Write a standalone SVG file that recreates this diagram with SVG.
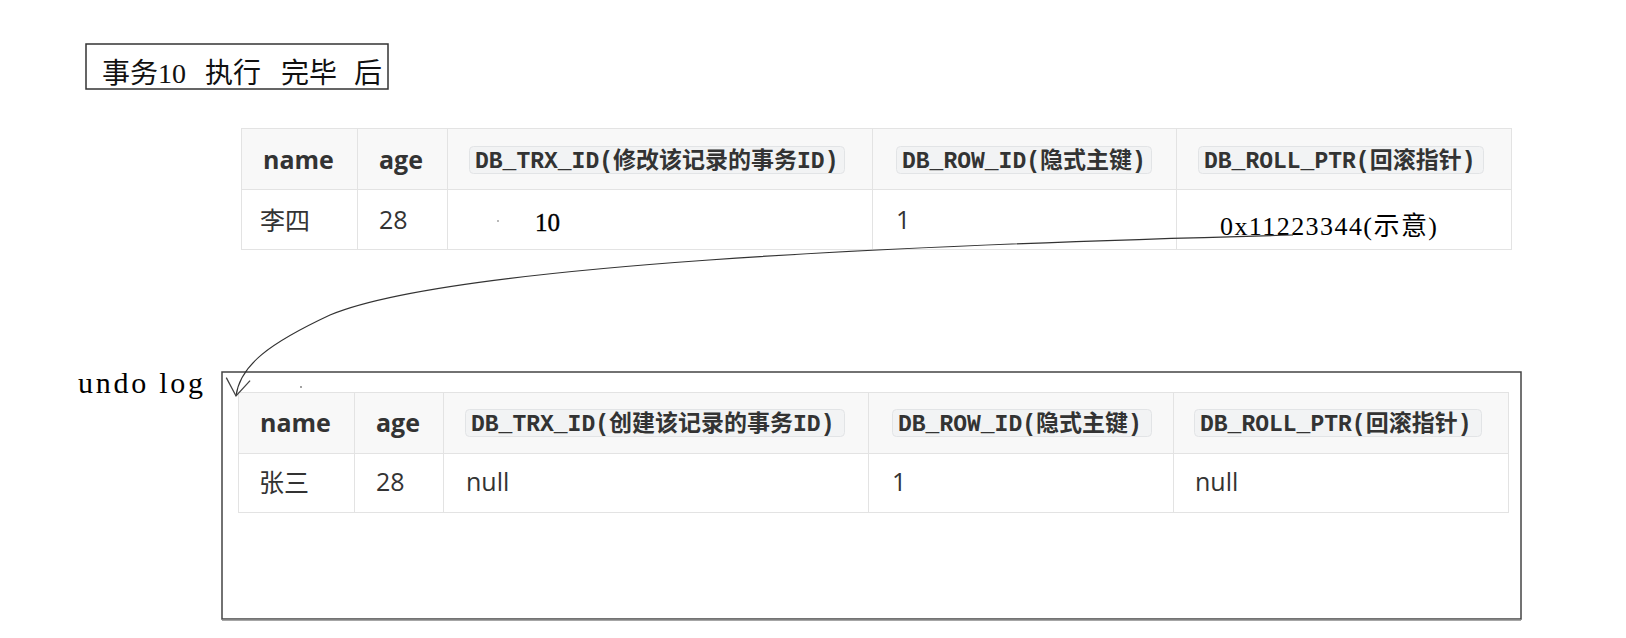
<svg xmlns="http://www.w3.org/2000/svg" width="1626" height="638" viewBox="0 0 1626 638">
<defs>
<style>
.hdr{fill:#f8f8f8;stroke:#e3e3e3;stroke-width:1}
.cell{fill:#ffffff;stroke:#e3e3e3;stroke-width:1}
.th{font-family:"Open Sans","Noto Sans",sans-serif;font-weight:bold;font-size:25px;fill:#333}
.td{font-family:"Open Sans","Noto Sans","Noto Sans CJK SC",sans-serif;font-size:25px;fill:#333}
.code{fill:#f2f3f4;stroke:#e2e4e6;stroke-width:1}
.ct{font-family:"Liberation Mono","Noto Sans CJK SC",monospace;font-weight:bold;font-size:23px;fill:#333}
.serif{font-family:"Liberation Serif","Noto Sans CJK SC",serif;fill:#111}
</style>
<marker id="arr" viewBox="0 0 20 26" refX="18" refY="13" markerWidth="20" markerHeight="26" markerUnits="userSpaceOnUse" orient="auto">
<path d="M1,1 L18,13 L1,25" fill="none" stroke="#444" stroke-width="1.3"/>
</marker>
</defs>
<rect width="1626" height="638" fill="#ffffff"/>

<g id="title">
<rect x="86" y="44" width="302" height="45" fill="none" stroke="#333" stroke-width="1.5"/>
<text class="serif" font-size="28" y="83"><tspan x="102">事务10</tspan><tspan x="205">执行</tspan><tspan x="281">完毕</tspan><tspan x="354">后</tspan></text>
</g>

<g id="current-record">
<rect class="hdr" x="241.5" y="128.5" width="116" height="61"/>
<rect class="hdr" x="357.5" y="128.5" width="90" height="61"/>
<rect class="hdr" x="447.5" y="128.5" width="425" height="61"/>
<rect class="hdr" x="872.5" y="128.5" width="304" height="61"/>
<rect class="hdr" x="1176.5" y="128.5" width="335" height="61"/>
<rect class="cell" x="241.5" y="189.5" width="116" height="60"/>
<rect class="cell" x="357.5" y="189.5" width="90" height="60"/>
<rect class="cell" x="447.5" y="189.5" width="425" height="60"/>
<rect class="cell" x="872.5" y="189.5" width="304" height="60"/>
<rect class="cell" x="1176.5" y="189.5" width="335" height="60"/>
<text class="th" x="263" y="169">name</text>
<text class="th" x="379" y="169">age</text>
<rect class="code" x="469.5" y="146.5" width="375" height="27" rx="4"/>
<text class="ct" x="475" y="168">DB_TRX_ID(修改该记录的事务ID)</text>
<rect class="code" x="896.5" y="146.5" width="255" height="27" rx="4"/>
<text class="ct" x="902" y="168">DB_ROW_ID(隐式主键)</text>
<rect class="code" x="1198.5" y="146.5" width="285" height="27" rx="4"/>
<text class="ct" x="1204" y="168">DB_ROLL_PTR(回滚指针)</text>
<text class="td" x="260" y="230">李四</text>
<text class="td" x="379" y="229">28</text>
<circle cx="498" cy="221" r="0.9" fill="#999"/>
<text class="serif" x="535" y="231" font-size="25" style="fill:#000;stroke:#000;stroke-width:0.4">10</text>
<text class="td" x="896" y="229">1</text>
<text class="serif" x="1220" y="235" font-size="26" textLength="217" style="fill:#000">0x11223344(示意)</text>
</g>

<g id="undo-log">
<text class="serif" x="78" y="393" font-size="30" textLength="125" style="fill:#000">undo log</text>
<rect x="222" y="372" width="1299" height="247" fill="none" stroke="#444" stroke-width="1.5"/>
<line x1="222" y1="620" x2="1521" y2="620" stroke="#888" stroke-width="1.5"/>
<circle cx="301" cy="387" r="0.9" fill="#777"/>
<rect class="hdr" x="238.5" y="392.5" width="116" height="61"/>
<rect class="hdr" x="354.5" y="392.5" width="89" height="61"/>
<rect class="hdr" x="443.5" y="392.5" width="425" height="61"/>
<rect class="hdr" x="868.5" y="392.5" width="305" height="61"/>
<rect class="hdr" x="1173.5" y="392.5" width="335" height="61"/>
<rect class="cell" x="238.5" y="453.5" width="116" height="59"/>
<rect class="cell" x="354.5" y="453.5" width="89" height="59"/>
<rect class="cell" x="443.5" y="453.5" width="425" height="59"/>
<rect class="cell" x="868.5" y="453.5" width="305" height="59"/>
<rect class="cell" x="1173.5" y="453.5" width="335" height="59"/>
<text class="th" x="260" y="432">name</text>
<text class="th" x="376" y="432">age</text>
<rect class="code" x="465.5" y="409.5" width="379" height="27" rx="4"/>
<text class="ct" x="471" y="431">DB_TRX_ID(创建该记录的事务ID)</text>
<rect class="code" x="892.5" y="409.5" width="259" height="27" rx="4"/>
<text class="ct" x="898" y="431">DB_ROW_ID(隐式主键)</text>
<rect class="code" x="1194.5" y="409.5" width="287" height="27" rx="4"/>
<text class="ct" x="1200" y="431">DB_ROLL_PTR(回滚指针)</text>
<text class="td" x="259" y="492">张三</text>
<text class="td" x="376" y="491">28</text>
<text class="td" x="466" y="491">null</text>
<text class="td" x="892" y="491">1</text>
<text class="td" x="1195" y="491">null</text>
</g>

<g id="connectors">
<path d="M1293,235 C900,245 450,265 330,315 C270,343 240,365 236,396" fill="none" stroke="#333" stroke-width="1.2" marker-end="url(#arr)"/>
</g>
</svg>
